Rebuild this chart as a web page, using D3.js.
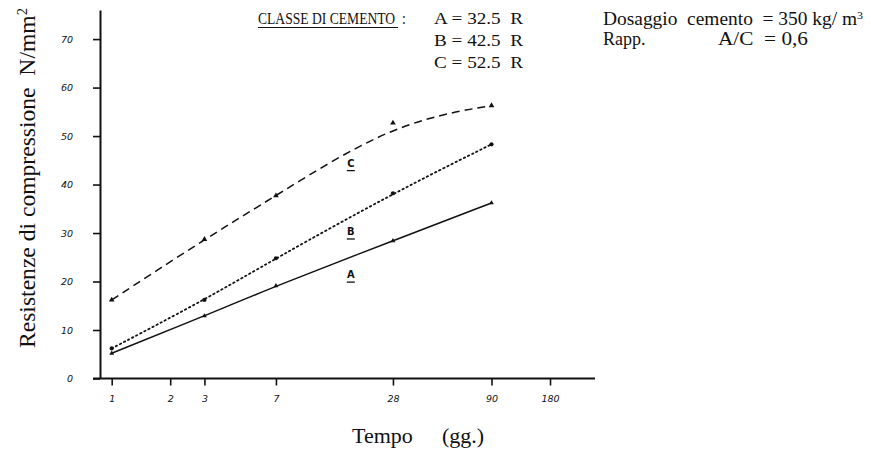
<!DOCTYPE html>
<html>
<head>
<meta charset="utf-8">
<script src="https://cdn.jsdelivr.net/npm/d3@7"></script>
<style>
  body { margin: 0; background: #fff; }
  svg { display: block; }
  .serif { font-family: "Liberation Serif", "Times New Roman", serif; fill: #111; }
  .hand { font-family: "DejaVu Sans", sans-serif; font-style: italic; fill: #111; }
  .lbl { font-family: "DejaVu Sans Condensed", "DejaVu Sans", sans-serif; font-weight: bold; fill: #111; }
</style>
</head>
<body>
<svg width="871" height="455"></svg>
<script>
// tempo di maturazione (giorni) e resistenze
var days = [1, 3, 7, 28, 90];
var serieA = [5.2, 12.9, 19.1, 28.4, 36.2];
var serieB = [6.2, 16.2, 24.8, 38.2, 48.3];
var serieC = [16.2, 28.7, 37.7, 52.7, 56.3];
var seriesNames = ["A", "B", "C"];
var xTicks = [1, 2, 3, 7, 28, 90, 180];
var yTicks = [0, 10, 20, 30, 40, 50, 60, 70];
var classi = ["A = 32.5  R", "B = 42.5  R", "C = 52.5  R"];

var svg = d3.select("svg");

var x = d3.scaleLog().domain([1, 180]).range([111.7, 550]);
var y = d3.scaleLinear().domain([0, 76]).range([378.5, 10]);

// asse y
var yAxis = svg.append("g")
    .attr("transform", "translate(100,0)")
    .call(d3.axisLeft(y).tickValues(yTicks).tickSize(7).tickSizeOuter(0).tickPadding(20));
yAxis.attr("font-family", null).attr("font-size", null);
yAxis.select(".domain").attr("stroke", "#111").attr("stroke-width", 2);
yAxis.selectAll(".tick line").attr("stroke", "#111").attr("stroke-width", 1.6);
yAxis.selectAll(".tick text").attr("class", "hand").attr("font-size", 9.5).attr("fill", "#111");

// asse x
var xAxis = svg.append("g")
    .attr("transform", "translate(0," + y(0) + ")")
    .call(d3.axisBottom(x).tickValues(xTicks).tickFormat(d3.format("d")).tickSize(7).tickSizeOuter(0).tickPadding(10));
xAxis.attr("font-family", null).attr("font-size", null);
xAxis.select(".domain").remove();
xAxis.append("line")
    .attr("x1", 93).attr("x2", 595)
    .attr("stroke", "#111").attr("stroke-width", 2);
xAxis.selectAll(".tick line").attr("stroke", "#111").attr("stroke-width", 1.6);
xAxis.selectAll(".tick text").attr("class", "hand").attr("font-size", 9.5).attr("fill", "#111");

// curve (tracciate come curve di tendenza, i punti restano i valori misurati)
var series = [
  { name: "A", values: serieA, dash: null, symbol: d3.symbolTriangle, size: 10 },
  { name: "B", values: serieB, dash: "1.4,3.2", symbol: d3.symbolCircle, size: 14 },
  { name: "C", values: serieC, dash: "8,5", symbol: d3.symbolTriangle, size: 14 }
];

var line = d3.line()
    .x(function(d) { return x(d[0]); })
    .y(function(d) { return y(d[1]); })
    .curve(d3.curveBasis);

series.forEach(function(s) {
  var pts = days.map(function(d, i) { return [d, s.values[i]]; });
  svg.append("path")
      .datum(pts)
      .attr("d", line)
      .attr("fill", "none")
      .attr("stroke", "#111")
      .attr("stroke-width", s.name === "B" ? 1.8 : 1.5)
      .attr("stroke-dasharray", s.dash)
      .attr("stroke-linecap", s.name === "B" ? "round" : "butt");
  svg.append("g").selectAll("path")
      .data(pts)
      .enter().append("path")
      .attr("transform", function(d) { return "translate(" + x(d[0]) + "," + y(d[1]) + ")"; })
      .attr("d", d3.symbol().type(s.symbol).size(s.size))
      .attr("fill", "#111");
});

// etichette delle curve
var labelDay = 17;
var labelVal = [20.7, 29.6, 43.7];
seriesNames.forEach(function(n, i) {
  var lx = x(labelDay), ly = y(labelVal[i]);
  svg.append("text")
      .attr("class", "lbl")
      .attr("x", lx).attr("y", ly)
      .attr("text-anchor", "middle")
      .attr("font-size", 11)
      .text(n);
  svg.append("line")
      .attr("x1", lx - 4).attr("x2", lx + 4)
      .attr("y1", ly + 4).attr("y2", ly + 4)
      .attr("stroke", "#111").attr("stroke-width", 1.3);
});

// titoli assi
svg.append("text")
    .attr("class", "serif")
    .attr("transform", "translate(35,178) rotate(-90)")
    .attr("text-anchor", "middle")
    .attr("font-size", 24)
    .attr("textLength", 340)
    .attr("lengthAdjust", "spacingAndGlyphs")
    .style("white-space", "pre")
    .text("Resistenze di compressione  N/mm")
  .append("tspan")
    .attr("baseline-shift", "super")
    .attr("font-size", 15)
    .text("2");

svg.append("text")
    .attr("class", "serif")
    .attr("x", 352).attr("y", 443)
    .attr("font-size", 22)
    .text("Tempo");
svg.append("text")
    .attr("class", "serif")
    .attr("x", 442).attr("y", 443)
    .attr("font-size", 22)
    .text("(gg.)");

// legenda classi (carattere stretto come nell'originale)
svg.append("text")
    .attr("class", "serif")
    .attr("transform", "translate(258,24) scale(0.8,1)")
    .attr("font-size", 17)
    .style("white-space", "pre")
    .text("CLASSE DI CEMENTO  :");
svg.append("line")
    .attr("x1", 258).attr("x2", 398)
    .attr("y1", 27.5).attr("y2", 27.5)
    .attr("stroke", "#111").attr("stroke-width", 1);
svg.selectAll(".classe")
    .data(classi)
    .enter().append("text")
    .attr("class", "serif")
    .attr("x", 434)
    .attr("y", function(d, i) { return 24 + i * 22; })
    .attr("font-size", 17)
    .attr("textLength", 89)
    .attr("lengthAdjust", "spacingAndGlyphs")
    .style("white-space", "pre")
    .text(function(d) { return d; });

// dati miscela
svg.append("text")
    .attr("class", "serif")
    .attr("x", 603).attr("y", 25)
    .attr("font-size", 18)
    .attr("textLength", 260)
    .attr("lengthAdjust", "spacingAndGlyphs")
    .style("white-space", "pre")
    .text("Dosaggio  cemento  = 350 kg/ m")
  .append("tspan")
    .attr("baseline-shift", "super")
    .attr("font-size", 11)
    .text("3");
svg.append("text")
    .attr("class", "serif")
    .attr("x", 603).attr("y", 45)
    .attr("font-size", 18)
    .text("Rapp.");
svg.append("text")
    .attr("class", "serif")
    .attr("x", 718).attr("y", 45)
    .attr("font-size", 18)
    .attr("textLength", 90)
    .attr("lengthAdjust", "spacingAndGlyphs")
    .style("white-space", "pre")
    .text("A/C  = 0,6");
</script>
</body>
</html>
